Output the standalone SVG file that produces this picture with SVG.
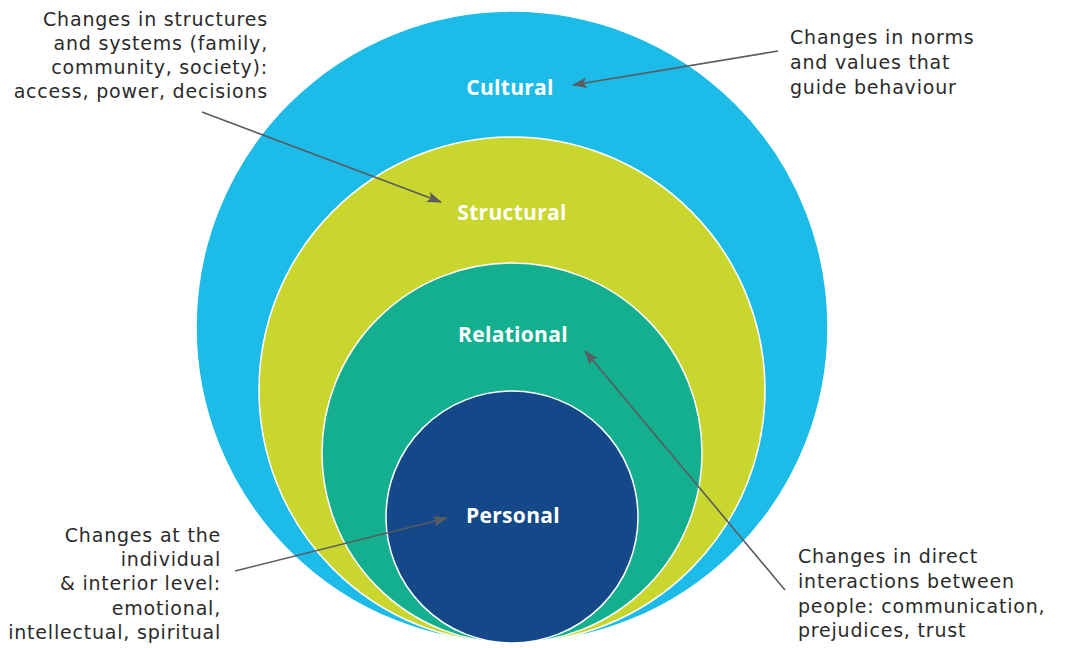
<svg xmlns="http://www.w3.org/2000/svg" width="1065" height="648" viewBox="0 0 1065 648">
<defs>
<style>
.ring{stroke:#ffffff;stroke-width:1.5}
.lbl{font-family:"Open Sans","Liberation Sans",sans-serif;font-weight:bold;font-size:21px;letter-spacing:0.3px;fill:#ffffff;text-anchor:middle}
.note{font-family:"DejaVu Sans","Liberation Sans",sans-serif;font-size:19px;letter-spacing:0.8px;fill:#2b2b2b}
.end{text-anchor:end}
.conn{stroke:#5b5b60;stroke-width:1.6;fill:none;marker-end:url(#ah)}
</style>
<marker id="ah" viewBox="0 0 14 10" refX="13" refY="5" markerWidth="15" markerHeight="11" markerUnits="userSpaceOnUse" orient="auto">
<path d="M0,0 L14,5 L0,10 L3,5 Z" fill="#5b5b60"/>
</marker>
</defs>
<rect width="1065" height="648" fill="#ffffff"/>
<g id="cultural">
<circle class="ring" cx="512" cy="327" r="316" fill="#1dbbe8"/>
<text class="lbl" x="510" y="95">Cultural</text>
</g>
<g id="structural">
<circle class="ring" cx="512" cy="390" r="253" fill="#c8d62d"/>
<text class="lbl" x="512" y="220">Structural</text>
</g>
<g id="relational">
<circle class="ring" cx="512" cy="453" r="190" fill="#14af8f"/>
<text class="lbl" x="513" y="342">Relational</text>
</g>
<g id="personal">
<circle class="ring" cx="512" cy="517" r="126" fill="#144888"/>
<text class="lbl" x="513" y="523">Personal</text>
</g>
<g id="note-structural">
<text class="note end" x="268" y="26">Changes in structures</text>
<text class="note end" x="268" y="50">and systems (family,</text>
<text class="note end" x="268" y="74">community, society):</text>
<text class="note end" x="268" y="98">access, power, decisions</text>
</g>
<g id="note-cultural">
<text class="note" x="790" y="44">Changes in norms</text>
<text class="note" x="790" y="69">and values that</text>
<text class="note" x="790" y="94">guide behaviour</text>
</g>
<g id="note-personal">
<text class="note end" x="221" y="542">Changes at the</text>
<text class="note end" x="221" y="566">individual</text>
<text class="note end" x="221" y="590">&amp; interior level:</text>
<text class="note end" x="221" y="615">emotional,</text>
<text class="note end" x="221" y="639">intellectual, spiritual</text>
</g>
<g id="note-relational">
<text class="note" x="798" y="563">Changes in direct</text>
<text class="note" x="798" y="588">interactions between</text>
<text class="note" x="798" y="613">people: communication,</text>
<text class="note" x="798" y="637">prejudices, trust</text>
</g>
<g id="connectors">
<line class="conn" x1="202" y1="112" x2="441" y2="202"/>
<line class="conn" x1="778" y1="51" x2="573" y2="85"/>
<line class="conn" x1="235" y1="571" x2="447" y2="518"/>
<line class="conn" x1="785" y1="590" x2="585" y2="351"/>
</g>
</svg>
